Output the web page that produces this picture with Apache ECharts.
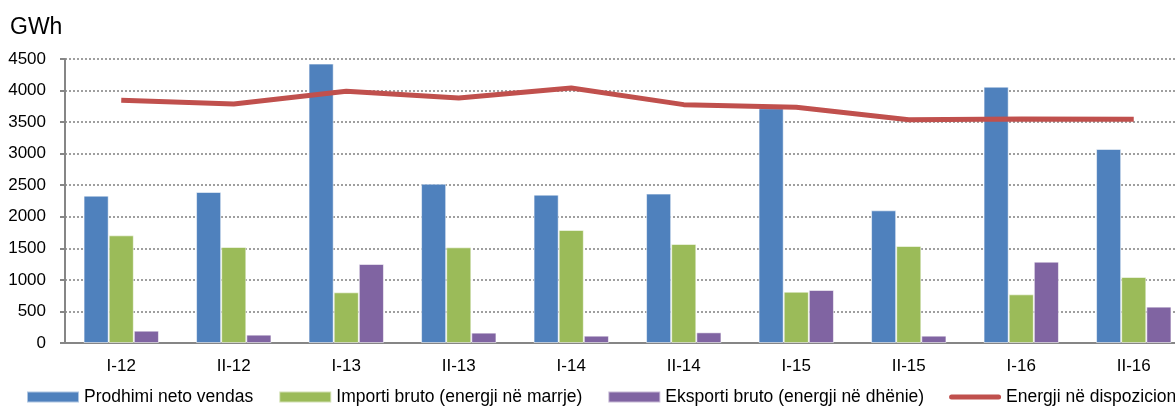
<!DOCTYPE html>
<html>
<head>
<meta charset="utf-8">
<script src="https://cdn.jsdelivr.net/npm/echarts@6/dist/echarts.min.js"></script>
<style>
  html, body { margin: 0; padding: 0; background: #fff; }
  #chart { width: 1175px; height: 409px; }
</style>
</head>
<body>
<div id="chart"></div>
<script>
// periudhat (gjysmevjetore)
const categories = ['I-12', 'II-12', 'I-13', 'II-13', 'I-14', 'II-14', 'I-15', 'II-15', 'I-16', 'II-16']
const prodhimi = [2335, 2393, 4427, 2525, 2351, 2367, 3720, 2102, 4062, 3074]
const importi = [1706, 1521, 803, 1516, 1791, 1569, 813, 1537, 771, 1046]
const eksporti = [195, 132, 1252, 164, 116, 169, 840, 116, 1289, 576]
const dispozicion = [3846, 3788, 3988, 3883, 4041, 3777, 3735, 3539, 3550, 3545]
const seriesNames = [
  'Prodhimi neto vendas',
  'Importi bruto (energji në marrje)',
  'Eksporti bruto (energji në dhënie)',
  'Energji në dispozicion'
]

const font = "'Liberation Sans', Arial, sans-serif"
const gray = '#868686'

const chart = echarts.init(document.getElementById('chart'))

function barSeries (name, data, color) {
  return {
    name: name,
    type: 'bar',
    data: data,
    barGap: 0,
    barCategoryGap: '33%',
    itemStyle: { color: color, borderColor: 'rgba(255,255,255,0.55)', borderWidth: 1 }
  }
}

chart.setOption({
  animation: false,
  title: {
    text: 'GWh',
    left: 5,
    top: 11,
    textStyle: { fontFamily: font, fontSize: 23, fontWeight: 'normal', color: '#000' }
  },
  grid: { left: 65, top: 59, width: 1125, height: 284, outerBoundsMode: 'none' },
  legend: {
    left: 26,
    top: 388,
    width: 1400,
    padding: 0,
    itemWidth: 52,
    itemHeight: 11,
    itemGap: 25,
    symbolKeepAspect: true,
    textStyle: { fontFamily: font, fontSize: 17.5, color: '#000' },
    data: [
      { name: seriesNames[0], icon: 'rect' },
      { name: seriesNames[1], icon: 'rect' },
      { name: seriesNames[2], icon: 'rect' },
      { name: seriesNames[3], icon: 'path://M2.5,0 H49.5 A2.5,2.5 0 0 1 49.5,5 H2.5 A2.5,2.5 0 0 1 2.5,0 Z' }
    ]
  },
  xAxis: {
    type: 'category',
    data: categories,
    axisLine: { lineStyle: { color: gray, width: 2 } },
    axisTick: { length: 6, lineStyle: { color: gray, width: 2 } },
    axisLabel: { margin: 15, fontFamily: font, fontSize: 17, color: '#000' }
  },
  yAxis: {
    type: 'value',
    min: 0,
    max: 4500,
    interval: 500,
    axisLine: { show: true, lineStyle: { color: gray, width: 2 } },
    axisTick: { show: true, length: 5, lineStyle: { color: gray, width: 2 } },
    axisLabel: { margin: 19, fontFamily: font, fontSize: 17, color: '#000', formatter: v => String(v) },
    splitLine: { lineStyle: { color: '#808080', width: 1.5, type: [2, 2] } }
  },
  series: [
    barSeries(seriesNames[0], prodhimi, '#4F81BD'),
    barSeries(seriesNames[1], importi, '#9BBB59'),
    barSeries(seriesNames[2], eksporti, '#8064A2'),
    {
      name: seriesNames[3],
      type: 'line',
      data: dispozicion,
      symbol: 'none',
      z: 5,
      lineStyle: { color: '#C0504D', width: 5 },
      itemStyle: { color: '#C0504D' }
    }
  ]
})
</script>
</body>
</html>
